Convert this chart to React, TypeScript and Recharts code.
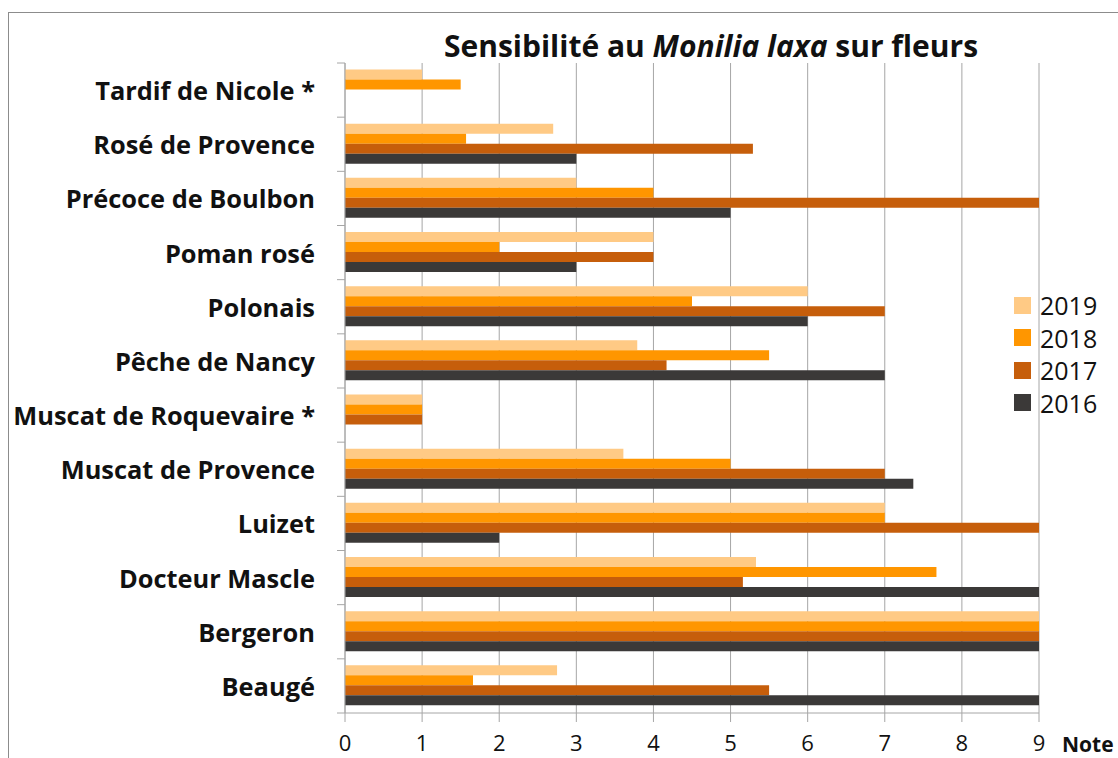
import React from 'react';
import { BarChart, Bar, XAxis, YAxis, CartesianGrid } from 'recharts';

const varieties = [
  'Tardif de Nicole *',
  'Rosé de Provence',
  'Précoce de Boulbon',
  'Poman rosé',
  'Polonais',
  'Pêche de Nancy',
  'Muscat de Roquevaire *',
  'Muscat de Provence',
  'Luizet',
  'Docteur Mascle',
  'Bergeron',
  'Beaugé',
];

const notes2019 = [1, 2.7, 3, 4, 6, 3.79, 1, 3.61, 7, 5.33, 9, 2.75];
const notes2018 = [1.5, 1.57, 4, 2, 4.5, 5.5, 1, 5, 7, 7.67, 9, 1.66];
const notes2017 = [null, 5.29, 9, 4, 7, 4.17, 1, 7, 9, 5.16, 9, 5.5];
const notes2016 = [null, 3, 5, 3, 6, 7, null, 7.37, 2, 9, 9, 9];

const noteTicks = [0, 1, 2, 3, 4, 5, 6, 7, 8, 9];
const years = ['2019', '2018', '2017', '2016'];
const yearColors = ['#ffca85', '#ff9600', '#c65e0b', '#3b3938'];

const data = varieties.map((name, i) => ({
  name,
  '2019': notes2019[i],
  '2018': notes2018[i],
  '2017': notes2017[i],
  '2016': notes2016[i],
}));

const W = 1118;
const H = 758;
const TOP = 63;
const BOTTOM = 45;
const AXIS_W = 345;
const Y_TICK = 8;
const Y_GAP = 22;
const BAND = (H - TOP - BOTTOM) / varieties.length;
const FONT = '"Open Sans", Lato, sans-serif';
const GRID = '#a6a6a6';

const VarietyTick = (props: any) => {
  const { x, y, payload, index } = props;
  const axisX = x + Y_TICK + Y_GAP;
  const top = y - BAND / 2;
  return (
    <g>
      <line x1={axisX - Y_TICK} x2={axisX} y1={top} y2={top} stroke={GRID} />
      {index === varieties.length - 1 && (
        <line x1={axisX - Y_TICK} x2={axisX} y1={y + BAND / 2} y2={y + BAND / 2} stroke={GRID} />
      )}
      <text
        x={x}
        y={y}
        textAnchor="end"
        dominantBaseline="central"
        fontFamily={FONT}
        fontWeight="bold"
        fontSize={25.4}
        fill="#111"
      >
        {payload.value}
      </text>
    </g>
  );
};

export default function App() {
  return (
    <div style={{ position: 'relative', width: W, height: H, background: '#fff', fontFamily: FONT }}>
      <style>{'body{margin:0;overflow:hidden}'}</style>
      <div
        style={{
          position: 'absolute',
          left: 8,
          top: 12,
          width: W + 20,
          height: H + 20,
          border: '1px solid #8c8c8c',
        }}
      />
      <div
        style={{
          position: 'absolute',
          left: 411,
          width: 600,
          top: 25,
          textAlign: 'center',
          fontSize: 30,
          fontWeight: 'bold',
          color: '#111',
          whiteSpace: 'nowrap',
        }}
      >
        Sensibilité au <i>Monilia laxa</i> sur fleurs
      </div>
      <BarChart
        width={W}
        height={H}
        data={data}
        layout="vertical"
        margin={{ top: TOP, right: 79, bottom: 0, left: 0 }}
        barCategoryGap="12%"
        barGap={0}
        style={{ position: 'absolute', left: 0, top: 0 }}
      >
        <CartesianGrid horizontal={false} stroke={GRID} />
        <XAxis
          type="number"
          domain={[0, 9]}
          ticks={noteTicks}
          height={BOTTOM}
          tickSize={9}
          tickMargin={13}
          stroke={GRID}
          tick={{ fill: '#111', fontSize: 22, fontFamily: FONT }}
          interval={0}
        />
        <YAxis
          type="category"
          dataKey="name"
          width={AXIS_W}
          tickSize={Y_TICK}
          tickMargin={Y_GAP}
          tickLine={false}
          stroke={GRID}
          tick={<VarietyTick />}
          interval={0}
        />
        {years.map((year, i) => (
          <Bar key={year} dataKey={year} name={year} fill={yearColors[i]} isAnimationActive={false} />
        ))}
      </BarChart>
      <div style={{ position: 'absolute', left: 1014, top: 289 }}>
        {years.map((year, i) => (
          <div key={year} style={{ display: 'flex', alignItems: 'center', height: 32.5 }}>
            <span style={{ width: 17, height: 17, background: yearColors[i], display: 'inline-block' }} />
            <span style={{ marginLeft: 9, fontSize: 25, color: '#111' }}>{year}</span>
          </div>
        ))}
      </div>
      <div
        style={{
          position: 'absolute',
          left: 1062,
          top: 730,
          fontSize: 21,
          fontWeight: 'bold',
          color: '#111',
        }}
      >
        Note
      </div>
    </div>
  );
}
